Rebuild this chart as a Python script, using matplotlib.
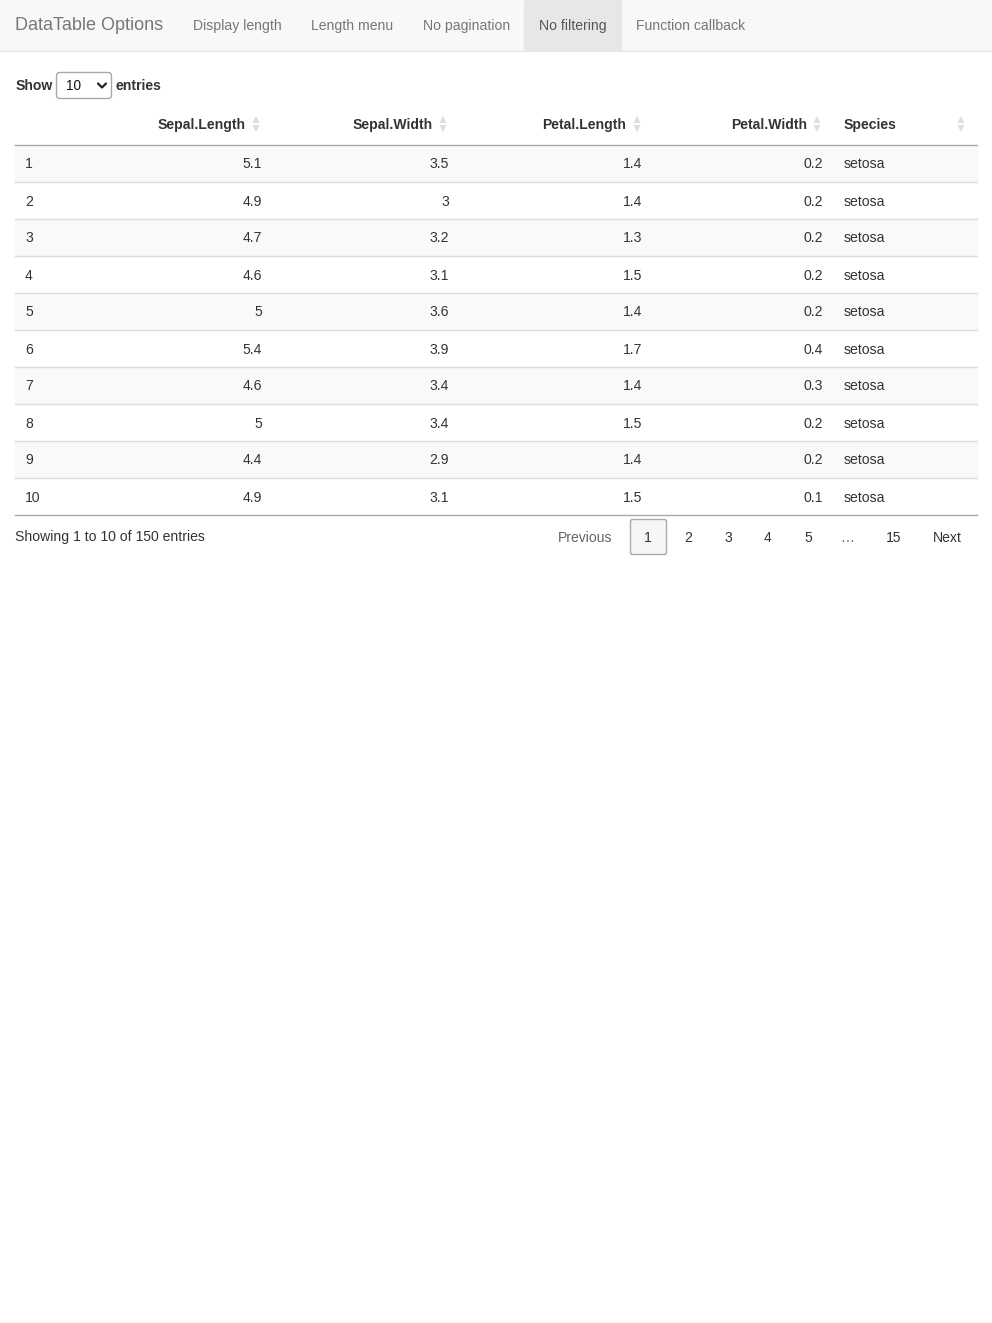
import matplotlib.pyplot as plt
from matplotlib.patches import Rectangle, FancyBboxPatch, Polygon

plt.rcParams["font.family"] = ["Liberation Sans", "DejaVu Sans"]

# page content
brand = "DataTable Options"
nav_items = ["Display length", "Length menu", "No pagination", "No filtering", "Function callback"]
active_tab = "No filtering"

columns = ["", "Sepal.Length", "Sepal.Width", "Petal.Length", "Petal.Width", "Species"]
row_ids = [1, 2, 3, 4, 5, 6, 7, 8, 9, 10]
sepal_length = ["5.1", "4.9", "4.7", "4.6", "5", "5.4", "4.6", "5", "4.4", "4.9"]
sepal_width = ["3.5", "3", "3.2", "3.1", "3.6", "3.9", "3.4", "3.4", "2.9", "3.1"]
petal_length = ["1.4", "1.4", "1.3", "1.5", "1.4", "1.7", "1.4", "1.5", "1.4", "1.5"]
petal_width = ["0.2", "0.2", "0.2", "0.2", "0.2", "0.4", "0.3", "0.2", "0.2", "0.1"]
species = ["setosa"] * 10

info_text = "Showing 1 to 10 of 150 entries"
pages = ["Previous", "1", "2", "3", "4", "5", "\u2026", "15", "Next"]
current_page = "1"

W, H = 992, 1323
PX = 72 / 100  # px -> pt at dpi 100
DY = 1  # small nudge so text sits like the browser's

fig = plt.figure(figsize=(W / 100, H / 100), dpi=100)
ax = fig.add_axes([0, 0, 1, 1])
ax.set_xlim(0, W)
ax.set_ylim(H, 0)
ax.axis("off")

txt = "#333333"

# navbar
ax.add_patch(Rectangle((0, 0), W, 50, color="#f8f8f8", zorder=0))
ax.plot([0, W], [50.5, 50.5], color="#e7e7e7", lw=1)
ax.text(15, 25 + DY, brand, fontsize=18 * PX, color="#777777", va="center", ha="left")
nav_x = [193, 311, 423, 539, 636]
nav_w = [88, 82, 86, 67, 109]
for name, x, w in zip(nav_items, nav_x, nav_w):
    if name == active_tab:
        ax.add_patch(Rectangle((x - 15, 0), w + 30, 50, color="#e7e7e7", zorder=0.5))
        col = "#555555"
    else:
        col = "#777777"
    ax.text(x, 25 + DY, name, fontsize=14 * PX, color=col, va="center", ha="left")

# length menu
ax.text(16, 85 + DY, "Show", fontsize=14 * PX, color=txt, weight="bold", va="center")
ax.add_patch(FancyBboxPatch((56.5, 72.5), 55, 26, boxstyle="round,pad=0,rounding_size=3",
                            fc="white", ec="#aaaaaa", lw=1))
ax.text(66, 85.5 + DY, "10", fontsize=13.5 * PX, color="#111111", va="center")
ax.plot([98, 102, 106], [83.5, 87.5, 83.5], color="#222222", lw=1.6, solid_capstyle="round")
ax.text(116, 85 + DY, "entries", fontsize=14 * PX, color=txt, weight="bold", va="center")

# table geometry
tx0, tx1 = 15, 977
right_edges = [None, 262, 449, 642, 823, None]
icon_x = [None, 256, 443, 637, 817, 961]
head_y = 124
row_h = 37
first_top = 145

# header
for i, name in enumerate(columns):
    if not name:
        continue
    if name == "Species":
        ax.text(844, head_y + DY, name, fontsize=14 * PX, color=txt, weight="bold",
                va="center", ha="left")
    else:
        ax.text(right_edges[i] - 16, head_y + DY, name, fontsize=14 * PX, color=txt,
                weight="bold", va="center", ha="right")
    ix = icon_x[i]
    ax.add_patch(Polygon([[ix - 3.5, head_y - 1], [ix + 3.5, head_y - 1], [ix, head_y - 8]],
                         closed=True, color="#dddddd", lw=0))
    ax.add_patch(Polygon([[ix - 3.5, head_y + 1], [ix + 3.5, head_y + 1], [ix, head_y + 8]],
                         closed=True, color="#dddddd", lw=0))
ax.plot([tx0, tx1], [144.5, 144.5], color="#aaaaaa", lw=1)

# body rows
cols_data = [sepal_length, sepal_width, petal_length, petal_width]
for r, rid in enumerate(row_ids):
    top = first_top + r * row_h
    if r % 2 == 0:
        ax.add_patch(Rectangle((tx0, top), tx1 - tx0, row_h, color="#f9f9f9", zorder=0))
    cy = top + row_h / 2 + DY
    ax.text(25, cy, str(rid), fontsize=14 * PX, color=txt, va="center", ha="left")
    for c, vals in enumerate(cols_data):
        ax.text(right_edges[c + 1], cy, vals[r], fontsize=14 * PX, color=txt,
                va="center", ha="right")
    ax.text(844, cy, species[r], fontsize=14 * PX, color=txt, va="center", ha="left")
    if r < len(row_ids) - 1:
        ax.plot([tx0, tx1], [top + row_h - 0.5, top + row_h - 0.5], color="#dddddd", lw=1)
bottom = first_top + len(row_ids) * row_h
ax.plot([tx0, tx1], [bottom - 0.5, bottom - 0.5], color="#aaaaaa", lw=1)

# footer
ax.text(15, 536 + DY, info_text, fontsize=14 * PX, color=txt, va="center", ha="left")
page_x = [585, 648, 688, 728, 768, 808, 847, 894, 947]
for label, x in zip(pages, page_x):
    col = txt
    if label == current_page:
        ax.add_patch(FancyBboxPatch((630.5, 519.5), 36, 35, boxstyle="round,pad=0,rounding_size=2",
                                    fc="#f6f6f6", ec="#aaaaaa", lw=1))
    if label in ("Previous", "\u2026"):
        col = "#666666"
    ax.text(x, 537 + DY, label, fontsize=14 * PX, color=col, va="center", ha="center")

fig.savefig("out.png", dpi=100, facecolor="white")
